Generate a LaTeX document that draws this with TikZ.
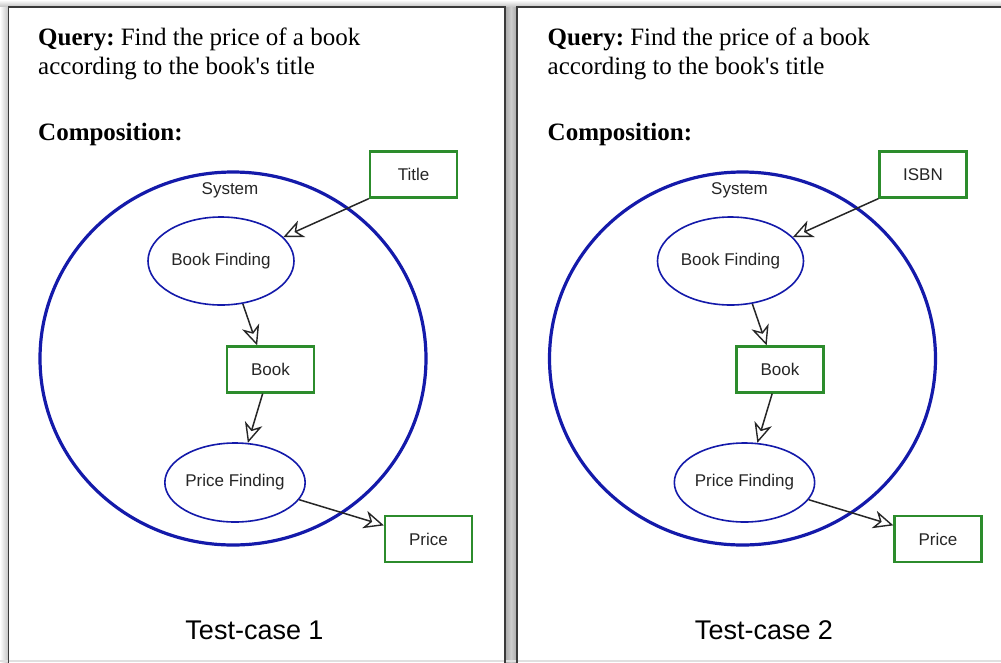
\documentclass[tikz,border=0pt]{standalone}
\usepackage{fontspec}
\setmainfont{Liberation Serif}
\newfontfamily\diagfont{Liberation Sans}
\usetikzlibrary{arrows.meta,shapes.geometric}
\definecolor{sysblue}{RGB}{20,26,170}
\definecolor{boxgreen}{RGB}{44,140,44}
\definecolor{framegray}{RGB}{58,58,58}
\frenchspacing

\begin{document}
\begin{tikzpicture}[x=1pt,y=-1pt,
  panelline/.style={draw=framegray,line width=1.8pt},
  sysring/.style={ellipse,draw=sysblue,line width=3.2pt,inner sep=0pt,
    minimum width=386pt,minimum height=373pt},
  activity/.style={ellipse,draw=sysblue,line width=1.6pt,inner sep=0pt,
    font=\diagfont\fontsize{17}{20}\selectfont,text=black!85},
  datum/.style={rectangle,draw=boxgreen,line width=2.2pt,inner sep=0pt,
    minimum width=87pt,minimum height=46pt,
    font=\diagfont\fontsize{17}{20}\selectfont,text=black!85},
  syslabel/.style={font=\diagfont\fontsize{17}{20}\selectfont,text=black!85,inner sep=0pt},
  querytext/.style={anchor=base west,inner sep=0pt,font=\fontsize{25}{29}\selectfont},
  caselabel/.style={anchor=base,inner sep=0pt,font=\diagfont\fontsize{27}{32}\selectfont},
  flow/.style={draw=black!85,line width=1.5pt,
    -{Stealth[open,length=20pt,width=18pt,inset=6pt,line width=1.4pt]}}
]
\useasboundingbox (0,0) rectangle (1001,662);
\fill[white] (0,0) rectangle (1001,662);

% soft shadows around the two panels
\shade[top color=white,bottom color=black!24] (0,0) rectangle (1001,7);
\shade[left color=white,right color=black!24] (0,7) rectangle (8.5,662);
\shade[left color=black!34,right color=black!34,middle color=black!20] (505,7) rectangle (517,662);
\fill[black!12] (0,659.5) rectangle (1001,662);

% panel frames
\draw[panelline] (8.5,663) -- (8.5,7) -- (505,7) -- (505,663);
\draw[panelline] (517,663) -- (517,7) -- (1003,7);

\foreach \dx/\k/\inp in {0/1/Title, 509.5/2/ISBN}{
  \begin{scope}[xshift=\dx pt]
    \node[querytext] (qa\k) at (38,45) {\textbf{Query:} Find the price of a book};
    \node[querytext] (qb\k) at (38,74) {according to the book\textquotesingle s title};
    \node[querytext] (comp\k) at (38,140) {\textbf{Composition:}};

    \node[sysring] (sys\k) at (233,358.5) {};
    \node[syslabel] (syslab\k) at (230,190) {System};

    \node[datum] (in\k) at (413.5,174.5) {\inp};
    \node[activity,minimum width=146pt,minimum height=88pt] (bf\k) at (221,261) {Book Finding};
    \node[datum] (bk\k) at (270.5,369.5) {Book};
    \node[activity,minimum width=131pt,minimum height=79pt] (pf\k) at (235,482.5) {Price Finding};
    \node[datum] (pr\k) at (428.5,539) {Price};

    \draw[flow] (in\k.south west) -- (bf\k.21);
    \draw[flow] (bf\k.-63) -- (bk\k.119);
    \draw[flow] (bk\k.252) -- (pf\k.72);
    \draw[flow] (pf\k.-15) -- (pr\k.163);

    \node[caselabel] (case\k) at (254.5,639) {Test-case \k};
  \end{scope}
}
\end{tikzpicture}
\end{document}
